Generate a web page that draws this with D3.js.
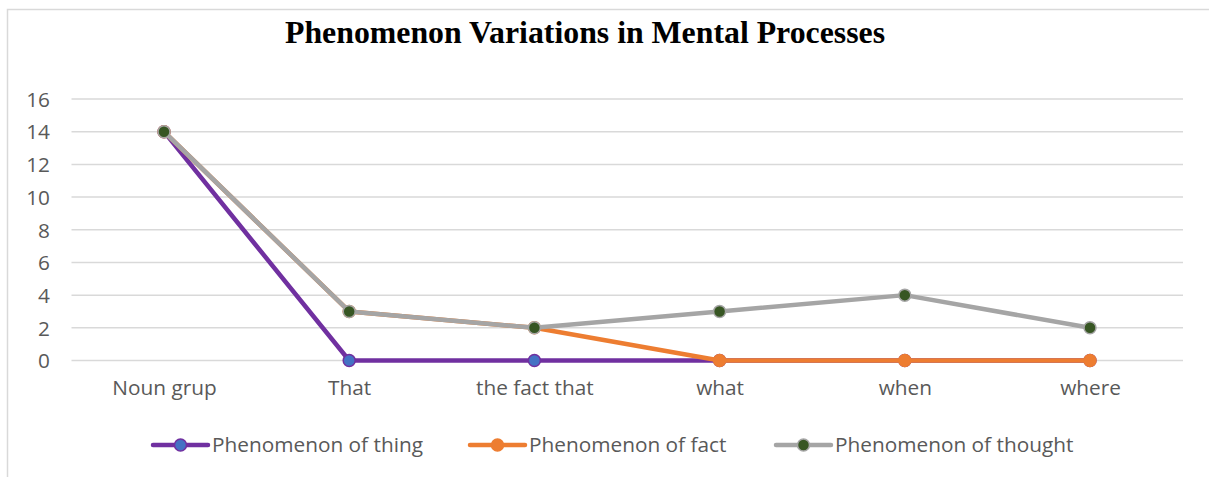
<!DOCTYPE html>
<html><head><meta charset="utf-8">
<script src="https://cdn.jsdelivr.net/npm/d3@7"></script>
<style>html,body{margin:0;padding:0;background:#fff;}svg{display:block;}</style>
</head><body>
<svg id="c" width="1209" height="477"></svg>
<script>
const categories = ["Noun grup", "That", "the fact that", "what", "when", "where"];
const thingValues = [14, 0, 0, 0, 0, 0];
const factValues = [14, 3, 2, 0, 0, 0];
const thoughtValues = [14, 3, 2, 3, 4, 2];
const yTicks = [0, 2, 4, 6, 8, 10, 12, 14, 16];
const seriesNames = ["Phenomenon of thing", "Phenomenon of fact", "Phenomenon of thought"];
const title = "Phenomenon Variations in Mental Processes";

const series = [
  {name: seriesNames[0], values: thingValues, line: "#7030A0", fill: "#4472C4", stroke: "#7030A0"},
  {name: seriesNames[1], values: factValues, line: "#ED7D31", fill: "#ED7D31", stroke: "#ED7D31"},
  {name: seriesNames[2], values: thoughtValues, line: "#A5A5A5", fill: "#375623", stroke: "#A5A5A5"}
];

const svg = d3.select("#c");
const font = "'Open Sans', sans-serif";
const fs = 20.8;

// chart frame
svg.append("path").attr("d", "M7.5,477 V9.5 H1209").attr("fill", "none").attr("stroke", "#d9d9d9").attr("stroke-width", 1.5);

const x = d3.scalePoint().domain(categories).range([164, 1090]);
const y = d3.scaleLinear().domain([0, 16]).range([360.5, 99]);
const plotL = 71.5, plotR = 1183;

// gridlines
svg.append("g").selectAll("line").data(yTicks).join("line")
  .attr("x1", plotL).attr("x2", plotR)
  .attr("y1", d => y(d)).attr("y2", d => y(d))
  .attr("stroke", "#d9d9d9").attr("stroke-width", 1.5);

// y axis labels
const yAxis = d3.axisLeft(y).tickValues(yTicks).tickSize(0).tickPadding(0);
const gy = svg.append("g").attr("transform", "translate(50,0)").call(yAxis);
gy.select(".domain").remove();
gy.selectAll("text").attr("font-family", font).attr("font-size", fs).attr("fill", "#595959").attr("dy", "0.35em");

// x axis labels
const xAxis = d3.axisBottom(x).tickSize(0).tickPadding(0);
const gx = svg.append("g").attr("transform", "translate(0,380)").call(xAxis);
gx.select(".domain").remove();
gx.selectAll("text").attr("font-family", font).attr("font-size", fs).attr("fill", "#595959").attr("dy", "0.71em");

// title
svg.append("text").attr("x", 585).attr("y", 43).attr("text-anchor", "middle")
  .attr("font-family", "'Liberation Serif', 'Times New Roman', serif").attr("font-weight", "bold")
  .attr("font-size", 31.8).attr("fill", "#000").text(title);

const line = d3.line().x((d, i) => x(categories[i])).y(d => y(d));

series.forEach(s => {
  const g = svg.append("g");
  g.append("path").datum(s.values).attr("d", line).attr("fill", "none")
    .attr("stroke", s.line).attr("stroke-width", 4.5).attr("stroke-linejoin", "round").attr("stroke-linecap", "round");
  g.selectAll("circle").data(s.values).join("circle")
    .attr("cx", (d, i) => x(categories[i])).attr("cy", d => y(d)).attr("r", 6)
    .attr("fill", s.fill).attr("stroke", s.stroke).attr("stroke-width", 1.5);
});

// legend
const legendX = [153, 470, 776];
const leg = svg.append("g");
series.forEach((s, i) => {
  const lx = legendX[i], ly = 445;
  leg.append("line").attr("x1", lx).attr("x2", lx + 55).attr("y1", ly).attr("y2", ly)
    .attr("stroke", s.line).attr("stroke-width", 4.5).attr("stroke-linecap", "round");
  leg.append("circle").attr("cx", lx + 27.5).attr("cy", ly).attr("r", 6)
    .attr("fill", s.fill).attr("stroke", s.stroke).attr("stroke-width", 1.5);
  leg.append("text").attr("x", lx + 59).attr("y", ly).attr("dy", "0.35em")
    .attr("font-family", font).attr("font-size", fs).attr("fill", "#595959").text(s.name);
});
</script>
</body></html>
